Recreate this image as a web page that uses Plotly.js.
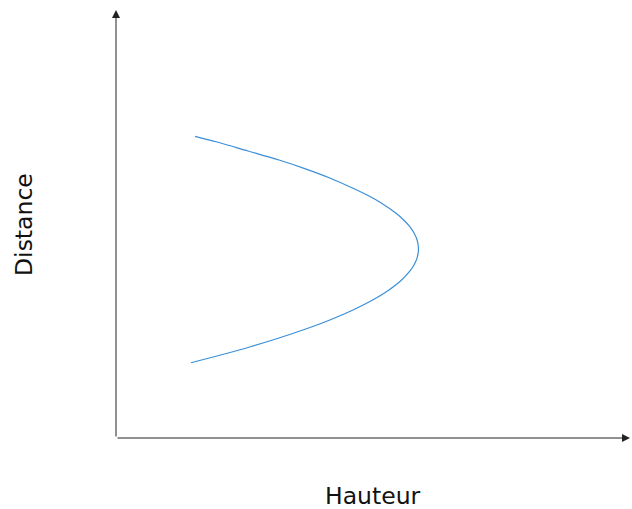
<!DOCTYPE html>
<html>
<head>
<meta charset="utf-8">
<script src="https://cdn.plot.ly/plotly-3.0.1.min.js"></script>
<style>html,body{margin:0;padding:0;background:#fff;}#chart{width:632px;height:509px;}</style>
</head>
<body>
<div id="chart"></div>
<script>
// Curve values (axis units 0..10)
const hauteur = [1.537, 1.965, 2.568, 3.171, 3.658, 4.160, 4.611, 4.922, 5.152, 5.449, 5.597, 5.716, 5.798, 5.858,
                 5.885, 5.858, 5.803, 5.720, 5.535, 5.282, 4.994, 4.611, 4.160, 3.677, 3.171, 2.617, 2.037, 1.459];
const distance = [7.049, 6.916, 6.706, 6.495, 6.301, 6.075, 5.834, 5.654, 5.498, 5.250, 5.093, 4.937, 4.790, 4.626,
                  4.416, 4.208, 4.054, 3.902, 3.668, 3.435, 3.224, 2.991, 2.757, 2.540, 2.336, 2.133, 1.939, 1.759];
const xTitle = "Hauteur";
const yTitle = "Distance";
const axisMax = 10;

const trace = {
  x: hauteur, y: distance, type: 'scatter', mode: 'lines',
  line: {color: '#3a8fd8', width: 1.2, shape: 'spline', smoothing: 1},
  hoverinfo: 'skip'
};

const axisCommon = {range: [0, axisMax], showgrid: false, zeroline: false, showline: false,
  showticklabels: false, ticks: '', fixedrange: true};

const layout = {
  width: 632, height: 509,
  margin: {l: 116, r: 2, t: 10, b: 71},
  paper_bgcolor: '#fff', plot_bgcolor: '#fff',
  showlegend: false,
  xaxis: Object.assign({}, axisCommon),
  yaxis: Object.assign({}, axisCommon),
  font: {family: 'DejaVu Sans, sans-serif', color: '#111'},
  annotations: [
    {x: axisMax, y: 0, ax: 0, ay: 0, xref: 'x', yref: 'y', axref: 'x', ayref: 'y',
     showarrow: true, arrowhead: 2, arrowsize: 1.6, arrowwidth: 1, arrowcolor: '#222', text: ''},
    {x: 0, y: axisMax, ax: 0, ay: 0, xref: 'x', yref: 'y', axref: 'x', ayref: 'y',
     showarrow: true, arrowhead: 2, arrowsize: 1.6, arrowwidth: 1, arrowcolor: '#222', text: ''},
    {text: xTitle, xref: 'paper', yref: 'paper', x: 0.5, y: -0.1355, xanchor: 'center', yanchor: 'middle',
     showarrow: false, font: {size: 23.5, family: 'DejaVu Sans, sans-serif', color: '#111'}},
    {text: yTitle, xref: 'paper', yref: 'paper', x: -0.179, y: 0.5, xanchor: 'center', yanchor: 'middle',
     textangle: -90, showarrow: false, font: {size: 23.5, family: 'DejaVu Sans, sans-serif', color: '#111'}}
  ]
};

Plotly.newPlot('chart', [trace], layout, {staticPlot: true, displayModeBar: false});
</script>
</body>
</html>
